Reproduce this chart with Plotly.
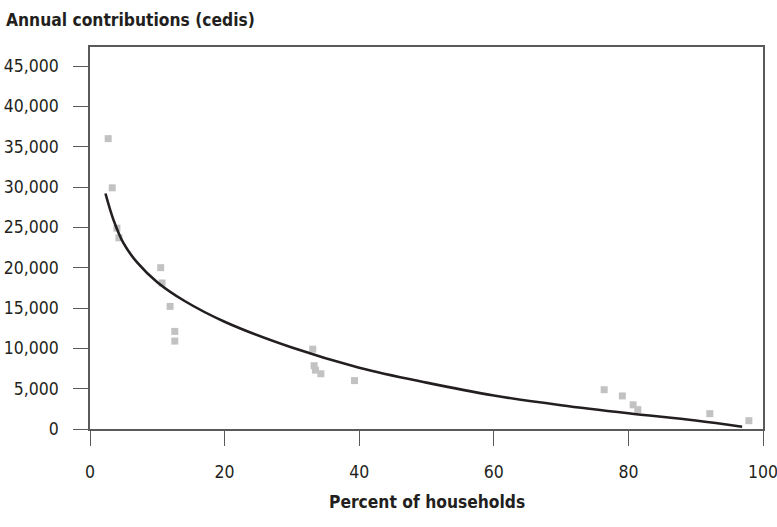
import plotly.graph_objects as go

# Observed data points (percent of households, annual contributions in cedis)
pct_households = [2.7, 3.3, 4.0, 4.3, 10.5, 10.7, 11.9, 12.6, 12.6,
                  33.1, 33.3, 33.5, 34.3, 39.3,
                  76.4, 79.1, 80.7, 81.4, 92.1, 97.9]
contributions = [36000, 29900, 24900, 23700, 20000, 18100, 15200, 12100, 10900,
                 9900, 7850, 7300, 6850, 6000,
                 4870, 4100, 3000, 2400, 1900, 1030]

# Trend curve
curve_x = [2.3, 3.5, 5.0, 7.0, 10.0, 14.0, 20.0, 30.0, 40.0, 50.0, 60.0, 70.0, 80.0, 90.0, 96.9]
curve_y = [29200, 25900, 23000, 20650, 18200, 15900, 13300, 10100, 7600, 5750, 4150, 2950, 1950, 1050, 280]

x_ticks = [0, 20, 40, 60, 80, 100]
y_ticks = [0, 5000, 10000, 15000, 20000, 25000, 30000, 35000, 40000, 45000]

FONT = "DejaVu Sans Condensed, Roboto, sans-serif"
TXT = "#231f20"
AX = "#5a5a5a"

fig = go.Figure()
fig.add_trace(go.Scatter(
    x=pct_households, y=contributions, mode="markers",
    marker=dict(symbol="square", size=7, color="#c2c2c2", line=dict(width=0)),
    showlegend=False, hoverinfo="skip"))
fig.add_trace(go.Scatter(
    x=curve_x, y=curve_y, mode="lines",
    line=dict(color="#231f20", width=2.6, shape="spline", smoothing=1.0),
    showlegend=False, hoverinfo="skip"))

fig.update_layout(
    width=777, height=527,
    margin=dict(l=90, r=14, t=47, b=98),
    paper_bgcolor="white", plot_bgcolor="white",
    font=dict(family=FONT, size=17.5, color=TXT),
    xaxis=dict(range=[0, 100], tickvals=x_ticks, ticktext=[str(v) for v in x_ticks],
               showgrid=False, zeroline=False, showline=True, linecolor=AX, linewidth=1.5,
               mirror=True, ticks="outside", ticklen=15, tickwidth=1.2, tickcolor=AX,
               automargin=False, ticklabeloverflow="allow",
               ticklabelstandoff=11, tickfont=dict(family=FONT, size=17.5, color=TXT)),
    yaxis=dict(range=[0, 47360], tickvals=y_ticks,
               ticktext=[f"{v:,}" for v in y_ticks],
               showgrid=False, zeroline=False, showline=True, linecolor=AX, linewidth=1.5,
               mirror=True, ticks="outside", ticklen=15, tickwidth=1.2, tickcolor=AX,
               automargin=False, ticklabeloverflow="allow",
               ticklabelstandoff=11, tickfont=dict(family=FONT, size=17.5, color=TXT)),
    annotations=[
        dict(text="<b>Annual contributions (cedis)</b>", xref="paper", yref="paper",
             x=-86/673, y=1 + 27/382, xanchor="left", yanchor="middle", showarrow=False,
             font=dict(family=FONT, size=17.3, color=TXT)),
        dict(text="<b>Percent of households</b>", xref="paper", yref="paper",
             x=0.5, y=-73/382, xanchor="center", yanchor="middle", showarrow=False,
             font=dict(family=FONT, size=17.3, color=TXT)),
    ],
)

fig.write_html("out.html")
